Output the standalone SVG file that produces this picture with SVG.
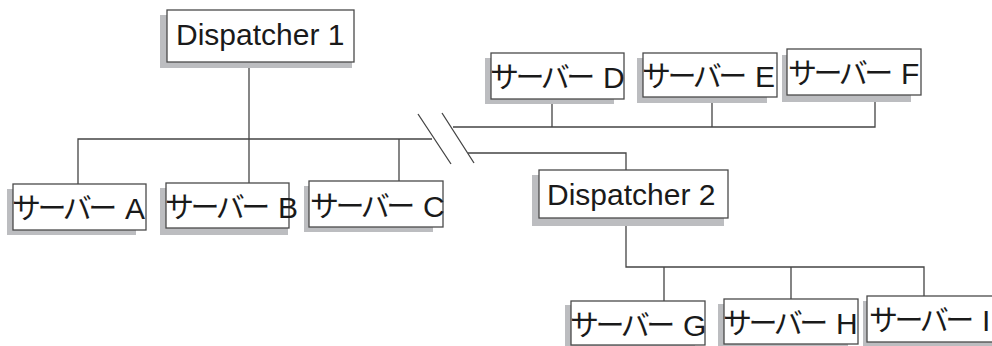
<svg xmlns="http://www.w3.org/2000/svg" width="992" height="346" viewBox="0 0 992 346">
<style>
.sh{fill:#bcbdc0;stroke:none}
.bx{fill:#ffffff;stroke:#4a4a4a;stroke-width:1.3}
.ln{stroke:#444444;stroke-width:1.3;fill:none}
.t{font-family:"Liberation Sans",Arial,sans-serif;font-size:30px;fill:#1a1a1a}
.k{font-family:"Noto Sans CJK JP","Noto Sans CJK SC",sans-serif;font-size:29px;letter-spacing:-3.5px}
</style>
<rect width="992" height="346" fill="#ffffff"/>
<g id="connectors">
<path class="ln" d="M249,62V183"/>
<path class="ln" d="M78,184V139H432"/>
<path class="ln" d="M399,139V181"/>
<path class="ln" d="M418,114L451,164M442,113L474,163"/>
<path class="ln" d="M453,127H875V95"/>
<path class="ln" d="M552,99V127M712,97V127"/>
<path class="ln" d="M468,153H626V170"/>
<path class="ln" d="M626,218V267H924V296"/>
<path class="ln" d="M664,267V301M791,267V299"/>
</g>
<g id="dispatcher1">
<rect class="sh" x="160" y="15" width="192" height="53"/>
<rect class="bx" x="167" y="10" width="187" height="52"/>
<text class="t" x="176" y="45">Dispatcher 1</text>
</g>
<g id="dispatcher2">
<rect class="sh" x="532" y="175" width="192" height="51"/>
<rect class="bx" x="539" y="170" width="189" height="48"/>
<text class="t" x="547" y="205">Dispatcher 2</text>
</g>
<g id="serverA">
<rect class="sh" x="7" y="189" width="129" height="46"/>
<rect class="bx" x="13" y="184" width="133" height="46"/>
<text class="t" x="12" y="219"><tspan class="k">サーバー</tspan><tspan dx="3"> A</tspan></text>
</g>
<g id="serverB">
<rect class="sh" x="160" y="188" width="128" height="47"/>
<rect class="bx" x="166" y="183" width="123" height="45"/>
<text class="t" x="165" y="218"><tspan class="k">サーバー</tspan><tspan dx="3"> B</tspan></text>
</g>
<g id="serverC">
<rect class="sh" x="304" y="186" width="129" height="46"/>
<rect class="bx" x="309" y="181" width="134" height="46"/>
<text class="t" x="310" y="217"><tspan class="k">サーバー</tspan><tspan dx="3"> C</tspan></text>
</g>
<g id="serverD">
<rect class="sh" x="485" y="58" width="129" height="46"/>
<rect class="bx" x="491" y="53" width="133" height="46"/>
<text class="t" x="490" y="88"><tspan class="k">サーバー</tspan><tspan dx="3"> D</tspan></text>
</g>
<g id="serverE">
<rect class="sh" x="637" y="58" width="130" height="45"/>
<rect class="bx" x="643" y="53" width="134" height="44"/>
<text class="t" x="642" y="87"><tspan class="k">サーバー</tspan><tspan dx="3"> E</tspan></text>
</g>
<g id="serverF">
<rect class="sh" x="782" y="55" width="129" height="47"/>
<rect class="bx" x="787" y="49" width="134" height="46"/>
<text class="t" x="788" y="84"><tspan class="k">サーバー</tspan><tspan dx="3"> F</tspan></text>
</g>
<g id="serverG">
<rect class="sh" x="565" y="305" width="130" height="46"/>
<rect class="bx" x="571" y="301" width="134" height="44"/>
<text class="t" x="570" y="336"><tspan class="k">サーバー</tspan><tspan dx="3"> G</tspan></text>
</g>
<g id="serverH">
<rect class="sh" x="718" y="304" width="130" height="46"/>
<rect class="bx" x="724" y="299" width="134" height="45"/>
<text class="t" x="723" y="334"><tspan class="k">サーバー</tspan><tspan dx="3"> H</tspan></text>
</g>
<g id="serverI">
<rect class="sh" x="863" y="301" width="140" height="47"/>
<rect class="bx" x="867" y="296" width="140" height="46"/>
<text class="t" x="869" y="331"><tspan class="k">サーバー</tspan><tspan dx="3"> I</tspan></text>
</g>
</svg>
